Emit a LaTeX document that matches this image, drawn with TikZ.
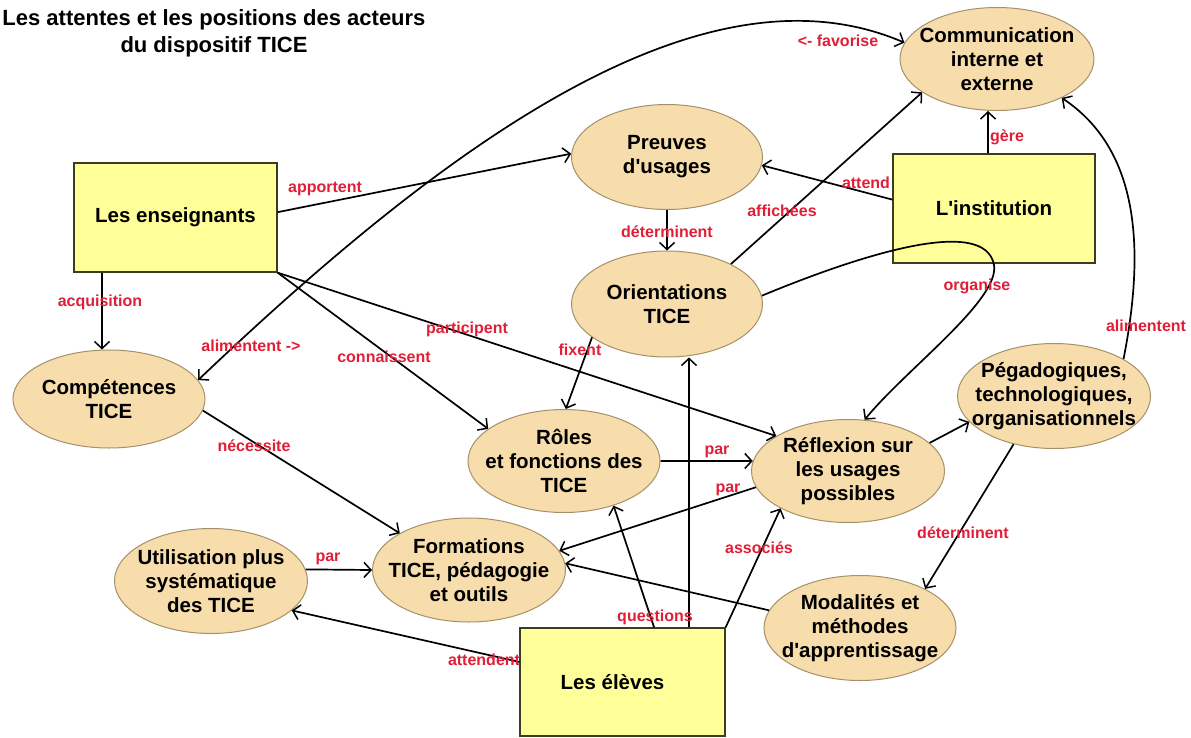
\documentclass[tikz,border=0pt]{standalone}
\usepackage{fontspec}
\setmainfont{Liberation Sans}
\usetikzlibrary{shapes.geometric,arrows.meta}
\definecolor{elfill}{RGB}{247,220,172}
\definecolor{eldraw}{RGB}{165,145,105}
\definecolor{boxfill}{RGB}{255,255,153}
\definecolor{boxdraw}{RGB}{60,60,30}
\definecolor{lblred}{RGB}{225,30,55}
\newcommand{\apos}{\textquotesingle}
\tikzset{
  ell/.style={ellipse, draw=eldraw, line width=1pt, fill=elfill, align=center, inner sep=-20pt, font=\fontsize{20.5}{24}\selectfont\bfseries},
  boxn/.style={rectangle, draw=boxdraw, line width=1.3pt, fill=boxfill, align=center, inner sep=0pt, font=\fontsize{20.5}{24}\selectfont\bfseries},
  arr/.style={line width=1.7pt, -{Straight Barb[length=7pt,width=15pt,line width=1.5pt]}},
  dbl/.style={line width=1.7pt, {Straight Barb[length=7pt,width=15pt,line width=1.5pt]}-{Straight Barb[length=7pt,width=15pt,line width=1.5pt]}},
  lbl/.style={text=lblred, font=\fontsize{16}{18}\selectfont\bfseries, inner sep=0pt},
}
\begin{document}
\begin{tikzpicture}[x=1pt,y=-1pt]
\useasboundingbox (0,0) rectangle (1191,737);
\node[font=\fontsize{22}{27}\selectfont\bfseries, align=center] (title) at (214,33) {Les attentes et les positions des acteurs\\du dispositif TICE};

\node[ell, minimum width=194, minimum height=103] (comm) at (997,59) {Communication\\interne et\\externe};
\node[ell, minimum width=191, minimum height=105] (preuves) at (667,157) {Preuves\\d\apos usages};
\node[boxn, minimum width=202, minimum height=109] (inst) at (994,208.5) {L\apos institution};
\node[boxn, minimum width=203, minimum height=109] (ens) at (175.5,217.5) {Les enseignants};
\node[ell, minimum width=191, minimum height=106] (orient) at (667,304) {Orientations\\TICE};
\node[ell, minimum width=192, minimum height=98] (comp) at (109,399) {Compétences\\TICE};
\node[ell, minimum width=192, minimum height=103] (roles) at (564,461) {Rôles\\et fonctions des\\TICE};
\node[ell, minimum width=193, minimum height=103] (refl) at (848,471) {Réflexion sur\\les usages\\possibles};
\node[ell, minimum width=193, minimum height=105] (peda) at (1054,396) {Pégadogiques,\\technologiques,\\organisationnels};
\node[ell, minimum width=193, minimum height=104] (form) at (469,570) {Formations\\TICE, pédagogie\\et outils};
\node[ell, minimum width=193, minimum height=105] (util) at (211,581) {Utilisation plus\\systématique\\des TICE};
\node[ell, minimum width=192, minimum height=105] (moda) at (860,628) {Modalités et\\méthodes\\d\apos apprentissage};
\node[boxn, minimum width=205, minimum height=108] (eleves) at (622.5,682) {Les élèves\hspace*{20pt}};

% connectors
\draw[arr] (ens.3) -- (preuves.178);
\draw[arr] ([xshift=-73.5pt]ens.south) -- ([xshift=-7pt]comp.north);
\draw[arr] (ens.south east) -- (roles.157);
\draw[arr] (ens.south east) -- (refl.154);
\draw[dbl] (comp.12) .. controls (440,150) and (700,-45) .. (comm.170);
\draw[arr] (inst.175) -- (preuves.-5);
\draw[arr] ([xshift=-6pt]inst.north) -- ([xshift=-9pt]comm.south);
\draw[arr] (preuves.south) -- (orient.north);
\draw[arr] (orient.32) -- (comm.204);
\draw[arr] (orient.5) .. controls (860,255) and (985,215) .. (994,265) .. controls (1000,300) and (905,370) .. (refl.72);
\draw[arr] (orient.204) -- (roles.88);
\draw[arr] (roles.east) -- (refl.174);
\draw[arr] (refl.190) -- (form.12);
\draw[arr] (moda.169) -- (form.4);
\draw[arr] (comp.-7) -- (form.152);
\draw[arr] (util.7) -- (form.west);
\draw[arr] (eleves.169.5) -- (util.-20);
\draw[arr] (eleves.60.5) -- (roles.-42);
\draw[arr] ([xshift=66.5pt]eleves.north) -- ([xshift=22pt]orient.south);
\draw[arr] (eleves.north east) -- (refl.209);
\draw[arr] (refl.19) -- (peda.197);
\draw[arr] (peda.28) .. controls (1145,250) and (1140,150) .. (comm.-31);
\draw[arr] (peda.230) -- (moda.31);

% labels
\node[lbl] (l1) at (838,41) {<- favorise};
\node[lbl] (l2) at (325,189) {apportent};
\node[lbl] (l3) at (100,302) {acquisition};
\node[lbl] (l4) at (251,346) {alimentent ->};
\node[lbl] (l5) at (384,357) {connaissent};
\node[lbl] (l6) at (467,329) {participent};
\node[lbl] (l7) at (866,183) {attend};
\node[lbl] (l8) at (1007,137) {gère};
\node[lbl] (l9) at (782,211) {affichées};
\node[lbl] (l10) at (667,232) {déterminent};
\node[lbl] (l11) at (977,286) {organise};
\node[lbl] (l12) at (580,350) {fixent};
\node[lbl] (l13) at (1146,326) {alimentent};
\node[lbl] (l14) at (254,446) {nécessite};
\node[lbl] (l15) at (717,452) {par};
\node[lbl] (l16) at (728,490) {par};
\node[lbl] (l17) at (963,533) {déterminent};
\node[lbl] (l18) at (759,548) {associés};
\node[lbl] (l19) at (328,559) {par};
\node[lbl] (l20) at (655,617) {questions};
\node[lbl] (l21) at (484,660) {attendent};
\end{tikzpicture}
\end{document}
